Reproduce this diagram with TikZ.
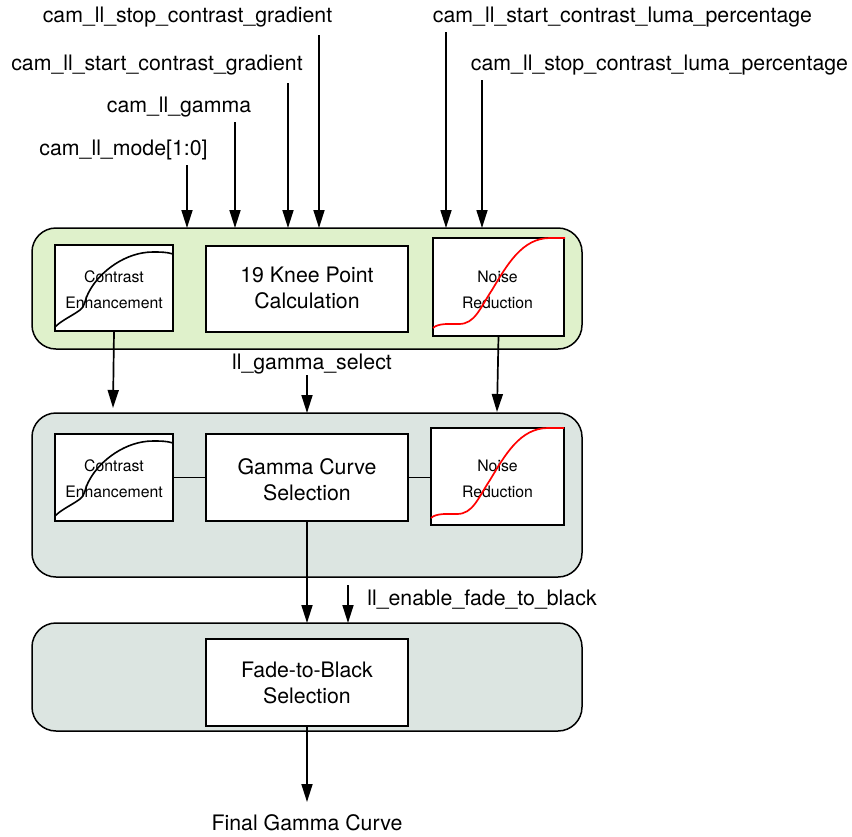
\documentclass[tikz,border=0pt]{standalone}
\usepackage{fontspec}
\setmainfont{TeX Gyre Heros}
\usetikzlibrary{arrows.meta}
\definecolor{panelgreen}{HTML}{DFF1CB}
\definecolor{panelgrey}{HTML}{DCE5E1}
\tikzset{
  x=1pt,y=-1pt,
  lbl/.style={inner sep=0pt,font=\fontsize{21.3}{26}\selectfont,anchor=center},
  panel/.style={draw=black,line width=1.5pt,rounded corners=24pt,inner sep=0pt,outer sep=0pt,anchor=north west},
  blockbox/.style={draw=black,fill=white,line width=1.5pt,inner sep=0pt,outer sep=0pt,anchor=north west},
  bigtext/.style={inner sep=0pt,align=center,font=\fontsize{21.3}{26}\selectfont,anchor=center},
  smalltext/.style={inner sep=0pt,align=center,font=\fontsize{15.8}{26}\selectfont,anchor=center},
  flow/.style={line width=1.7pt,-{Triangle[length=18pt,width=11pt]}},
  plain/.style={line width=1.6pt},
  link/.style={line width=1.8pt},
}
\begin{document}
\begin{tikzpicture}
\useasboundingbox (0,0) rectangle (852,836);
% panels
\node[panel,fill=panelgreen,minimum width=550pt,minimum height=121pt] (p1) at (32,228) {};
\node[panel,fill=panelgrey,minimum width=550pt,minimum height=164pt] (p2) at (32,413) {};
\node[panel,fill=panelgrey,minimum width=550pt,minimum height=108pt] (p3) at (32,623) {};
% boxes
\node[blockbox,minimum width=118pt,minimum height=86pt] (ce1) at (55,245) {};
\node[blockbox,minimum width=202pt,minimum height=86pt] (knee) at (206,246) {};
\node[blockbox,minimum width=131pt,minimum height=98pt] (nr1) at (433,238) {};
\node[blockbox,minimum width=118pt,minimum height=87pt] (ce2) at (55,434) {};
\node[blockbox,minimum width=202pt,minimum height=87pt] (gamma) at (206,434) {};
\node[blockbox,minimum width=133pt,minimum height=97pt] (nr2) at (431,428) {};
\node[blockbox,minimum width=202pt,minimum height=87pt] (fade) at (206,639) {};
% box texts
\node[smalltext] (tce1) at (114,290) {Contrast\\Enhancement};
\node[bigtext] (tknee) at (307,288) {19 Knee Point\\Calculation};
\node[smalltext] (tnr1) at (497.5,290) {Noise\\Reduction};
\node[smalltext] (tce2) at (114,479) {Contrast\\Enhancement};
\node[bigtext] (tgamma) at (307,479.5) {Gamma Curve\\Selection};
\node[smalltext] (tnr2) at (497.5,479) {Noise\\Reduction};
\node[bigtext] (tfade) at (307,683) {Fade-to-Black\\Selection};
% curves
\draw[plain] (55,327) .. controls (62,320) and (72,316) .. (80,310) .. controls (86,305) and (84,300) .. (90,290) .. controls (100,272) and (125,252) .. (153,252) .. controls (160,252) and (167,252) .. (173,254);
\draw[plain] (55,516) .. controls (62,509) and (72,505) .. (80,499) .. controls (86,494) and (84,489) .. (90,479) .. controls (100,461) and (125,441) .. (153,441) .. controls (160,441) and (167,441) .. (173,443);
\draw[red,line width=1.7pt] (433,328) .. controls (438,323) and (450,324) .. (459,324) .. controls (475,324) and (480,308) .. (492,290) .. controls (507,265) and (522,238) .. (550,238) -- (565,238);
\draw[red,line width=1.7pt] (431,518) .. controls (436,513) and (448,514) .. (457,514) .. controls (473,514) and (478,498) .. (490,480) .. controls (505,455) and (520,428) .. (548,428) -- (564,428);
% labels
\node[lbl] (lstop) at (187.5,17.5) {cam\_ll\_stop\_contrast\_gradient};
\node[lbl] (lstart) at (157,65.5) {cam\_ll\_start\_contrast\_gradient};
\node[lbl] (lgam) at (179,107.5) {cam\_ll\_gamma};
\node[lbl] (lmode) at (123.5,149.5) {cam\_ll\_mode[1:0]};
\node[lbl] (lsl) at (622.5,17.5) {cam\_ll\_start\_contrast\_luma\_percentage};
\node[lbl] (lel) at (659.5,65.5) {cam\_ll\_stop\_contrast\_luma\_percentage};
\node[lbl] (lsel) at (312,364.5) {ll\_gamma\_select};
\node[lbl] (lfade) at (482,599.5) {ll\_enable\_fade\_to\_black};
\node[lbl] (lfin) at (307,822.5) {Final Gamma Curve};
% free ends
\coordinate (a1) at (187,165);
\coordinate (a2) at (235,122);
\coordinate (a3) at (288,83);
\coordinate (a4) at (319,35);
\coordinate (a5) at (446,32);
\coordinate (a6) at (482,80);
\coordinate (b1) at (113,408);
\coordinate (b2) at (307,375);
\coordinate (b3) at (348,585);
\coordinate (b4) at (307,802);
\coordinate (b5) at (497,412);
% connectors
\foreach \s in {a1,a2,a3,a4,a5,a6} \draw[flow] (\s) -- (\s |- p1.north);
\draw[flow] (ce1.south) -- (b1);
\draw[flow] (b2) -- (b2 |- p2.north);
\draw[flow] (nr1.south) -- (b5);
\draw[flow] (gamma.south) -- (gamma.south |- p3.north);
\draw[flow] (b3) -- (b3 |- p3.north);
\draw[flow] (fade.south) -- (b4);
\draw[link] (ce2.east |- gamma.west) -- (gamma.west);
\draw[link] (gamma.east) -- (nr2.west |- gamma.east);
\end{tikzpicture}
\end{document}
